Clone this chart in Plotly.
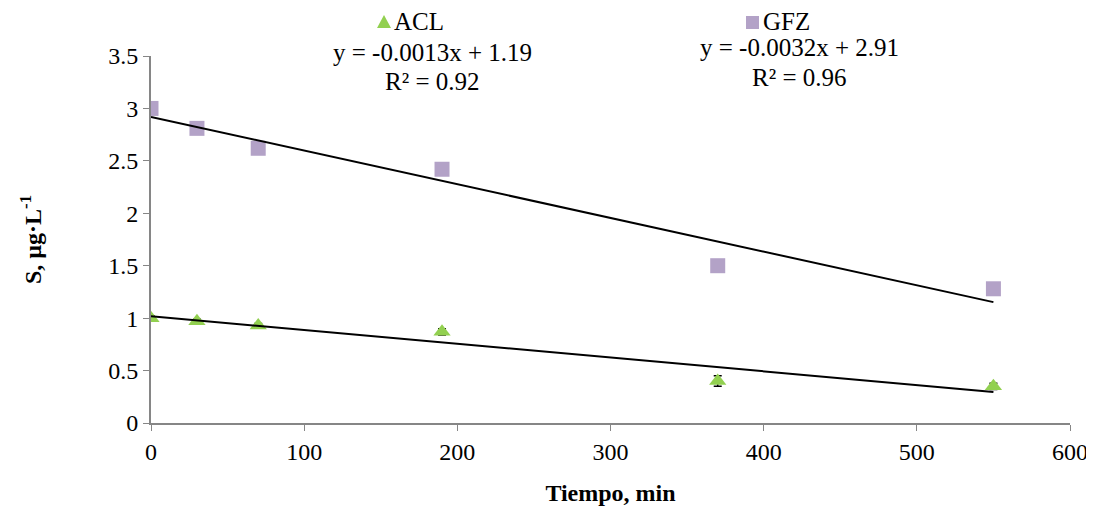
import numpy as np
import plotly.graph_objects as go

tiempo = [0, 30, 70, 190, 370, 550]
acl = [1.0, 0.97, 0.93, 0.87, 0.40, 0.35]
acl_err = [0.02, 0.02, 0.02, 0.03, 0.05, 0.03]
gfz = [3.0, 2.81, 2.62, 2.42, 1.50, 1.28]

series_names = ["ACL", "GFZ"]
acl_eq = ["y = -0.0013x + 1.19", "R² = 0.92"]
gfz_eq = ["y = -0.0032x + 2.91", "R² = 0.96"]

FONT = "Liberation Serif"
GREEN = "#92D050"
PURPLE = "#B3A2C7"
GRAY = "#868686"
FS = 24

# plot area in page pixels (for paper-coordinate placement of header items)
PX0, PX1, PY0, PY1 = 151, 1070, 423, 56


def px(x):
    return (x - PX0) / (PX1 - PX0)


def py(y):
    return (PY0 - y) / (PY0 - PY1)


fig = go.Figure()

fig.add_trace(go.Scatter(
    x=tiempo, y=acl, mode="markers", name=series_names[0], showlegend=False,
    marker=dict(symbol="triangle-up", size=15, color=GREEN),
    error_y=dict(type="data", array=acl_err, color="black", thickness=1.5, width=4),
))
fig.add_trace(go.Scatter(
    x=tiempo, y=gfz, mode="markers", name=series_names[1], showlegend=False,
    marker=dict(symbol="square", size=15, color=PURPLE),
))

xs = np.array([min(tiempo), max(tiempo)])
for ys in (acl, gfz):
    m, b = np.polyfit(tiempo, ys, 1)
    fig.add_trace(go.Scatter(
        x=xs, y=m * xs + b, mode="lines", showlegend=False,
        line=dict(color="black", width=2), hoverinfo="skip",
    ))

ann = []
for (txt, x, y) in [(acl_eq[0], 0.306, 1.010), (acl_eq[1], 0.306, 0.930),
                    (gfz_eq[0], 0.706, 1.024), (gfz_eq[1], 0.706, 0.942)]:
    ann.append(dict(text=txt, x=x, y=y, xref="paper", yref="paper",
                    showarrow=False, xanchor="center", yanchor="middle",
                    font=dict(family=FONT, size=25, color="black")))

# legend-like header: glyph + label
HY = 22
for name, tx in [(series_names[0], 392), (series_names[1], 761)]:
    ann.append(dict(text=name, x=px(tx), y=py(HY), xref="paper", yref="paper",
                    showarrow=False, xanchor="left", yanchor="middle",
                    font=dict(family=FONT, size=25, color="black")))

shapes = [
    dict(type="path", xref="paper", yref="paper",
         path=f"M {px(384)},{py(HY - 7)} L {px(391)},{py(HY + 6)} L {px(377)},{py(HY + 6)} Z",
         fillcolor=GREEN, line=dict(width=0)),
    dict(type="rect", xref="paper", yref="paper",
         x0=px(746), x1=px(759), y0=py(HY + 7), y1=py(HY - 6),
         fillcolor=PURPLE, line=dict(width=0)),
]

fig.update_layout(
    width=1086, height=503,
    margin=dict(l=143, r=24, t=48, b=88, autoexpand=False),
    paper_bgcolor="white", plot_bgcolor="white",
    font=dict(family=FONT, size=FS, color="black"),
    annotations=ann,
    shapes=shapes,
    showlegend=False,
    xaxis=dict(range=[0, 600], tickvals=[0, 100, 200, 300, 400, 500, 600],
               showgrid=False, zeroline=False, showline=True, linecolor=GRAY, linewidth=2,
               ticks="outside", tickcolor=GRAY, ticklen=6, tickwidth=1,
               tickfont=dict(family=FONT, size=FS),
               title=dict(text="<b>Tiempo, min</b>", font=dict(family=FONT, size=FS), standoff=20)),
    yaxis=dict(range=[0, 3.5], tickvals=[0, 0.5, 1, 1.5, 2, 2.5, 3, 3.5],
               ticktext=["0", "0.5", "1", "1.5", "2", "2.5", "3", "3.5"],
               showgrid=False, zeroline=False, showline=True, linecolor=GRAY, linewidth=2,
               ticks="outside", tickcolor=GRAY, ticklen=6, tickwidth=1,
               tickfont=dict(family=FONT, size=FS),
               title=dict(text="<b>S, µg·L<sup>-1</sup></b>", font=dict(family=FONT, size=FS), standoff=60)),
)

fig.write_html("out.html")
